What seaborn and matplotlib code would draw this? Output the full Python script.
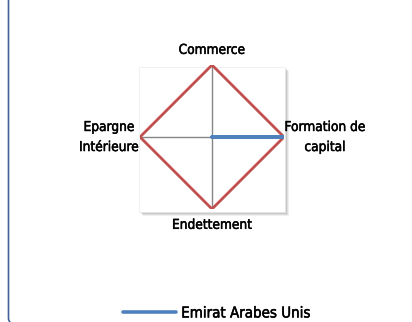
import numpy as np
import pandas as pd
import matplotlib
matplotlib.use("Agg")
import matplotlib.pyplot as plt
import matplotlib.patheffects as pe
from matplotlib.patches import Rectangle, FancyBboxPatch
import seaborn as sns

# ===================== DONNEES =====================
categories = ["Commerce", "Formation de capital", "Endettement", "Epargne Intérieure"]
emirats = [0, 1, 0, 0]
maximum = [1, 1, 1, 1]
serie_label = "Emirat Arabes Unis"

sns.set_theme(style="white")
plt.rcParams['font.family'] = ['DejaVu Sans']
plt.rcParams['font.stretch'] = 'condensed'

W, H = 412, 322
fig = plt.figure(figsize=(W / 100, H / 100), dpi=100)
fig.patch.set_facecolor("white")

def px(x, y):
    return x / W, 1 - y / H

# bordure du graphique (coin arrondi en bas a gauche)
cadre = FancyBboxPatch((8.5 / W, -2.5 / H), 1.5, 1.5,
                       boxstyle="round,pad=0,rounding_size=0.02",
                       transform=fig.transFigure, fill=False,
                       edgecolor="#41639a", linewidth=1.2, zorder=0)
fig.add_artist(cadre)

# zone de traçage avec ombre
x0, y0 = px(139, 212)
w, h = 146 / W, 145 / H
for i, a in enumerate([0.12, 0.16, 0.22, 0.30]):
    off = (4 - i) * 1.0
    fig.add_artist(Rectangle((x0 + off / W, y0 - off / H), w, h,
                             transform=fig.transFigure, facecolor="#7f7f7f",
                             edgecolor="none", alpha=a, zorder=1))
fig.add_artist(Rectangle((x0, y0), w, h, transform=fig.transFigure,
                         facecolor="white", edgecolor="#ececec", lw=0.5, zorder=1))

# axes polaires centrés sur (212,137), rayon 72 px
cx, cy = px(212, 137)
rx, ry = 72 / W, 72 / H
ax = fig.add_axes([cx - rx, cy - ry, 2 * rx, 2 * ry], projection="polar", zorder=2)
ax.patch.set_alpha(0)
ax.set_theta_zero_location("N")
ax.set_theta_direction(-1)

angles = np.linspace(0, 2 * np.pi, len(categories), endpoint=False)
theta = np.append(angles, angles[0])

df_max = pd.DataFrame({"theta": theta, "r": maximum + maximum[:1]})
df_uae = pd.DataFrame({"theta": theta, "r": emirats + emirats[:1]})

sns.lineplot(data=df_max, x="theta", y="r", sort=False, estimator=None,
             color="#c0504d", linewidth=2, ax=ax, legend=False, zorder=3)
sns.lineplot(data=df_uae, x="theta", y="r", sort=False, estimator=None,
             color="#4f81bd", linewidth=2.6, ax=ax, zorder=4,
             label=serie_label)

ax.set_ylim(0, 1)
ax.set_yticks([])
ax.set_xticks(angles)
ax.set_xticklabels([])
ax.xaxis.grid(True, color="#868686", linewidth=1)
ax.yaxis.grid(False)
ax.spines["polar"].set_visible(False)
ax.set_xlabel("")
ax.set_ylabel("")
if ax.get_legend() is not None:
    ax.get_legend().remove()

# libellés des axes
epais = [pe.withStroke(linewidth=0.35, foreground="black")]
txt = dict(fontsize=9.8, color="black", fontstretch="condensed", path_effects=epais)
ax.text(angles[0], 1.21, "Commerce", ha="center", va="center", **txt)
ax.text(angles[1], 1.57, "Formation de\ncapital", ha="center", va="center",
        linespacing=1.55, **txt)
ax.text(angles[2], 1.22, "Endettement", ha="center", va="center", **txt)
ax.text(angles[3], 1.43, "Epargne\nIntérieure", ha="center", va="center",
        linespacing=1.55, **txt)

handles, labels = ax.get_legend_handles_labels()
lx, ly = px(217, 313)
leg = fig.legend(handles, labels, loc="center", bbox_to_anchor=(lx, ly), frameon=False,
                 fontsize=10.8, handlelength=3.5, handletextpad=0.35, borderpad=0)
for t in leg.get_texts():
    t.set_color("black")
    t.set_path_effects(epais)

fig.savefig("out.png", dpi=100)
